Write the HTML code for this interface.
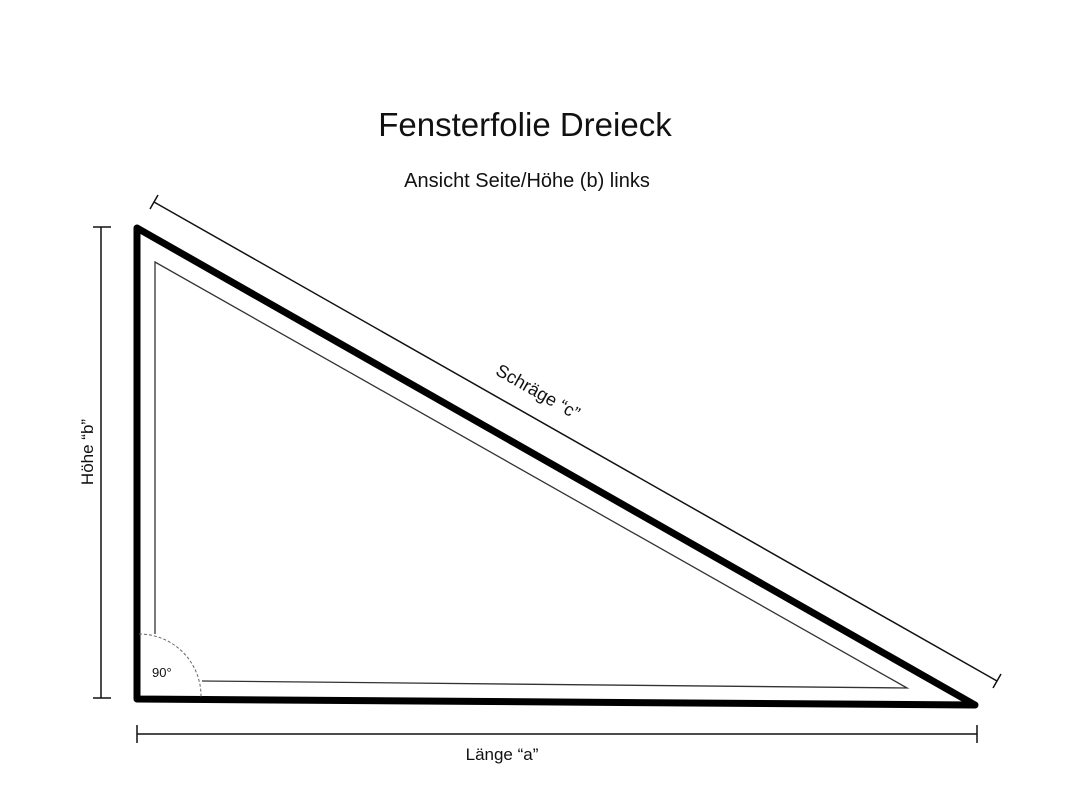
<!DOCTYPE html>
<html><head><meta charset="utf-8"><style>
html,body{margin:0;padding:0;background:#fff;}
svg{display:block;}
text{font-family:"Liberation Sans",sans-serif;fill:#111;}
</style></head><body>
<svg width="1067" height="800" viewBox="0 0 1067 800">
<text x="525" y="136" font-size="33" text-anchor="middle">Fensterfolie Dreieck</text>
<text x="527" y="187" font-size="20" text-anchor="middle">Ansicht Seite/Höhe (b) links</text>
<polygon points="137,228 137,699 975,705" fill="none" stroke="#000" stroke-width="7" stroke-linejoin="round"/>
<polyline points="155,634 155,262 907,688 202,681" fill="none" stroke="#333" stroke-width="1.3"/>
<path d="M139,634 A62,62 0 0 1 201,697" fill="none" stroke="#666" stroke-width="1" stroke-dasharray="3,2"/>
<text x="152" y="677" font-size="13">90°</text>
<line x1="101" y1="227" x2="101" y2="698" stroke="#111" stroke-width="1.5"/>
<line x1="93" y1="227" x2="111" y2="227" stroke="#111" stroke-width="1.5"/>
<line x1="93" y1="698" x2="111" y2="698" stroke="#111" stroke-width="1.5"/>
<text transform="translate(93,452) rotate(-90)" font-size="17" text-anchor="middle">Höhe “b”</text>
<line x1="137" y1="734" x2="977" y2="734" stroke="#111" stroke-width="1.5"/>
<line x1="137" y1="725" x2="137" y2="743" stroke="#111" stroke-width="1.5"/>
<line x1="977" y1="725" x2="977" y2="743" stroke="#111" stroke-width="1.5"/>
<text x="502" y="760" font-size="17" text-anchor="middle">Länge “a”</text>
<line x1="154" y1="202" x2="997" y2="681" stroke="#111" stroke-width="1.5"/>
<line x1="150" y1="209" x2="158" y2="195" stroke="#111" stroke-width="1.5"/>
<line x1="993" y1="688" x2="1001" y2="674" stroke="#111" stroke-width="1.5"/>
<text transform="translate(535,397) rotate(29.6)" font-size="18" text-anchor="middle">Schräge “c”</text>
</svg>
</body></html>
